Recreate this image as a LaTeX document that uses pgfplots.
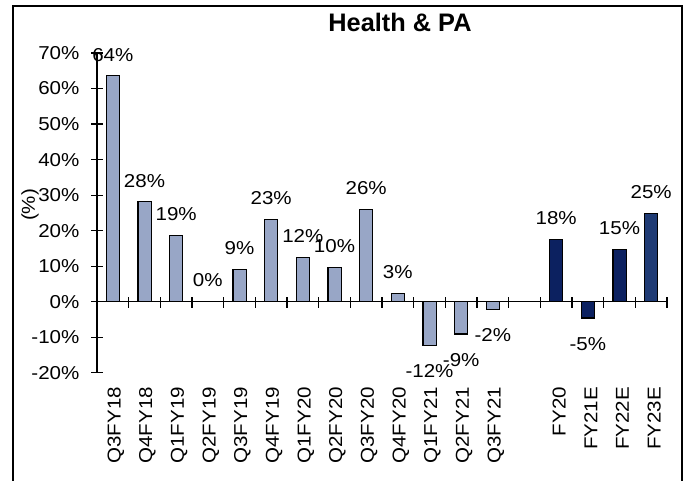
\documentclass[border=0pt]{standalone}
\usepackage{pgfplots}
\pgfplotsset{compat=1.18}
\usepackage{pgfplotstable}
\usepackage{fontspec}
\setmainfont{Liberation Sans}[FakeStretch=1.1]
\newfontfamily\titlefont{Liberation Sans}
\definecolor{qbar}{HTML}{98A6C6}
\definecolor{abar}{HTML}{0C2160}
\definecolor{abarb}{HTML}{1F3B74}

\pgfplotstableread{
x y lab
0 63.6 64
1 28.1 28
2 18.6 19
3 0.0 0
4 9.1 9
5 23.1 23
6 12.4 12
7 9.7 10
8 25.9 26
9 2.3 3
}\quarterlypos
\pgfplotstableread{
x y lab
10 -12.3 -12
11 -9.1 -9
12 -2.2 -2
}\quarterlyneg
\pgfplotstableread{
x y lab
14 17.6 18
16 14.7 15
}\annualpos
\pgfplotstableread{
x y lab
15 -4.6 -5
}\annualneg
\pgfplotstableread{
x y lab
17 24.8 25
}\annualb

\begin{document}
\begin{tikzpicture}[x=1pt,y=1pt]
\useasboundingbox (0,0) rectangle (516.75,360.75);
\draw[line width=1.1pt] (9.75,-2) -- (9.75,356.25) -- (511.5,356.25) -- (511.5,-2);
\begin{axis}[
  at={(72.75pt,81.2pt)}, anchor=south west,
  scale only axis, width=427.5pt, height=239.8pt,
  xmin=-0.5, xmax=17.5, ymin=-20, ymax=70,
  axis y line=left, axis x line=bottom,
  x axis line style={draw=none},
  y axis line style={-, line width=0.9pt, black},
  ytick={-20,-10,...,70},
  yticklabels={-20\%,-10\%,0\%,10\%,20\%,30\%,40\%,50\%,60\%,70\%},
  ytick style={line width=0.9pt, black},
  tick align=center, major tick length=9pt,
  xtick={0,1,2,3,4,5,6,7,8,9,10,11,12,14,15,16,17},
  xticklabels={Q3FY18,Q4FY18,Q1FY19,Q2FY19,Q3FY19,Q4FY19,Q1FY20,Q2FY20,Q3FY20,Q4FY20,Q1FY21,Q2FY21,Q3FY21,FY20,FY21E,FY22E,FY23E},
  xtick style={draw=none},
  xticklabel style={rotate=90, anchor=east, inner sep=0pt, xshift=-6pt, yshift=-2.2pt, font=\fontsize{14}{17}\selectfont},
  yticklabel style={anchor=east, inner sep=0pt, xshift=-8.5pt, font=\fontsize{14}{17}\selectfont},
  point meta=explicit symbolic,
  nodes near coords={\pgfplotspointmeta\%},
  every node near coord/.append style={font=\fontsize{14}{17}\selectfont, text=black, inner ysep=0pt},
  clip=false,
]
\addplot[ybar, bar width=9.8pt, bar shift=0pt, fill=qbar, draw=black, line width=0.8pt,
  every node near coord/.append style={anchor=south, yshift=10.5pt}] table[x=x,y=y,meta=lab] {\quarterlypos};
\addplot[ybar, bar width=9.8pt, bar shift=0pt, fill=qbar, draw=black, line width=0.8pt,
  every node near coord/.append style={anchor=north, yshift=-14pt}] table[x=x,y=y,meta=lab] {\quarterlyneg};
\addplot[ybar, bar width=9.8pt, bar shift=0pt, fill=abar, draw=black, line width=0.8pt,
  every node near coord/.append style={anchor=south, yshift=10.5pt}] table[x=x,y=y,meta=lab] {\annualpos};
\addplot[ybar, bar width=9.8pt, bar shift=0pt, fill=abar, draw=black, line width=0.8pt,
  every node near coord/.append style={anchor=north, yshift=-14pt}] table[x=x,y=y,meta=lab] {\annualneg};
\addplot[ybar, bar width=9.8pt, bar shift=0pt, fill=abarb, draw=black, line width=0.8pt,
  every node near coord/.append style={anchor=south, yshift=10.5pt}] table[x=x,y=y,meta=lab] {\annualb};
\draw[line width=0.9pt] (axis cs:-0.5,0) -- (axis cs:17.5,0);
\pgfplotsinvokeforeach{0.5,1.5,2.5,3.5,4.5,5.5,6.5,7.5,8.5,9.5,10.5,11.5,12.5,13.5,14.5,15.5,16.5,17.5}{
  \draw[line width=0.9pt] ([yshift=3.5pt]axis cs:#1,0) -- ([yshift=-5pt]axis cs:#1,0);
}
\end{axis}
\node[font=\titlefont\bfseries\fontsize{19}{22}\selectfont] at (300,344.25) {Health \& PA};
\node[rotate=90, font=\fontsize{14}{17}\selectfont] at (22.5,207) {(\%)};
\end{tikzpicture}
\end{document}
